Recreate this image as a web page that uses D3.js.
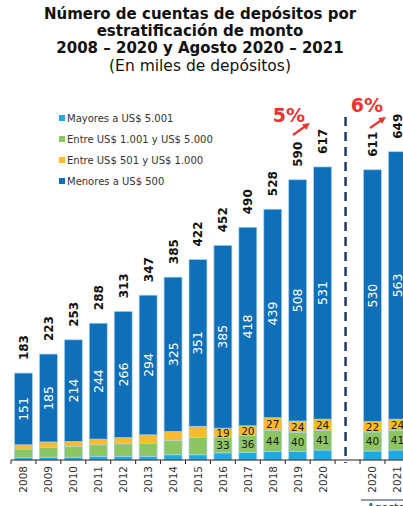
<!DOCTYPE html>
<html>
<head>
<meta charset="utf-8">
<script src="https://cdn.jsdelivr.net/npm/d3@7"></script>
<style>
  body { margin: 0; background: #fff; }
  svg { display: block; font-family: "DejaVu Sans", sans-serif; }
</style>
</head>
<body>
<div id="chart"></div>
<script>
// categories (slot 13 is the gap with the dashed line)
const labels = ['2008','2009','2010','2011','2012','2013','2014','2015','2016','2017','2018','2019','2020','','2020','2021'];
const mayores = [5, 6, 6, 8, 8, 8, 11, 11, 15, 16, 18, 18, 21, 0, 19, 21];
const entre1001 = [18, 20, 22, 24, 26, 27, 30, 36, 33, 36, 44, 40, 41, 0, 40, 41];
const entre501 = [9, 12, 11, 12, 13, 18, 19, 24, 19, 20, 27, 24, 24, 0, 22, 24];
const menores = [151, 185, 214, 244, 266, 294, 325, 351, 385, 418, 439, 508, 531, 0, 530, 563];
const totals = [183, 223, 253, 288, 313, 347, 385, 422, 452, 490, 528, 590, 617, null, 611, 649];
// small labels shown only from 2016 on
const showSmall = [8, 9, 10, 11, 12, 14, 15];

const keys = ['mayores', 'entre1001', 'entre501', 'menores'];
const names = ['Mayores a US$ 5.001', 'Entre  US$ 1.001  y US$ 5.000', 'Entre  US$ 501 y US$ 1.000', 'Menores a US$ 500'];
const colors = {mayores: '#1fa9e1', entre1001: '#8cc561', entre501: '#fbbb2b', menores: '#0f6fb8'};

const width = 403, height = 506;
const baseY = 460;

const rows = labels.map((l, i) => ({
  i: i, mayores: mayores[i], entre1001: entre1001[i], entre501: entre501[i], menores: menores[i]
}));

const svg = d3.select('#chart').append('svg')
  .attr('width', width)
  .attr('height', height);

const x = d3.scaleBand()
  .domain(d3.range(labels.length))
  .range([11, 11 + 16 * 24.93])
  .paddingInner(0.28)
  .paddingOuter(0.14);

const y = d3.scaleLinear().domain([0, 700]).range([baseY, baseY - 700 * 0.475]);

// title
const title = svg.append('g').attr('text-anchor', 'middle').attr('fill', '#111');
title.append('text').attr('x', 200).attr('y', 19).attr('font-size', 15).attr('font-weight', 'bold')
  .text('Número de cuentas de depósitos por');
title.append('text').attr('x', 200).attr('y', 36).attr('font-size', 15).attr('font-weight', 'bold')
  .text('estratificación de monto');
title.append('text').attr('x', 200).attr('y', 53).attr('font-size', 15).attr('font-weight', 'bold')
  .text('2008 – 2020 y Agosto 2020 – 2021');
title.append('text').attr('x', 200).attr('y', 71).attr('font-size', 15.5)
  .text('(En miles de depósitos)');

// stacked bars
const series = d3.stack().keys(keys)(rows);

const layer = svg.append('g').selectAll('g')
  .data(series)
  .join('g')
  .attr('fill', d => colors[d.key]);

layer.selectAll('rect')
  .data(d => d.filter(p => labels[p.data.i] !== ''))
  .join('rect')
  .attr('x', d => x(d.data.i))
  .attr('y', d => y(d[1]))
  .attr('width', x.bandwidth())
  .attr('height', d => y(d[0]) - y(d[1]))
  .attr('stroke', '#a9d3f0')
  .attr('stroke-width', 0.7);

// white labels inside Menores
const menoresLayer = series[3];
svg.append('g').selectAll('text')
  .data(menoresLayer.filter(p => labels[p.data.i] !== ''))
  .join('text')
  .attr('transform', d => 'translate(' + (x(d.data.i) + x.bandwidth() / 2 + 4.5) + ',' + ((y(d[0]) + y(d[1])) / 2) + ') rotate(-90)')
  .attr('text-anchor', 'middle')
  .attr('fill', '#fff')
  .attr('font-size', 12.5)
  .text(d => d.data.menores);

// small labels in green and yellow
[1, 2].forEach(k => {
  svg.append('g').selectAll('text')
    .data(series[k].filter(p => showSmall.includes(p.data.i)))
    .join('text')
    .attr('x', d => x(d.data.i) + x.bandwidth() / 2)
    .attr('y', d => (y(d[0]) + y(d[1])) / 2 + 4)
    .attr('text-anchor', 'middle')
    .attr('fill', '#1a1a1a')
    .attr('font-size', 10.5)
    .text(d => d.data[keys[k]]);
});

// totals above bars
svg.append('g').selectAll('text')
  .data(totals.map((t, i) => ({i: i, t: t})).filter(d => d.t !== null))
  .join('text')
  .attr('transform', d => 'translate(' + (x(d.i) + x.bandwidth() / 2 + 4.5) + ',' + (y(d.t) - 13) + ') rotate(-90)')
  .attr('text-anchor', 'start')
  .attr('fill', '#111')
  .attr('font-size', 12)
  .attr('font-weight', 'bold')
  .text(d => d.t);

// x axis
const axis = svg.append('g');
axis.append('line')
  .attr('x1', 11).attr('x2', width)
  .attr('y1', baseY).attr('y2', baseY)
  .attr('stroke', '#222').attr('stroke-width', 1.2);
axis.selectAll('line.tick')
  .data(d3.range(labels.length + 1))
  .join('line')
  .attr('class', 'tick')
  .attr('x1', d => 11 + d * x.step()).attr('x2', d => 11 + d * x.step())
  .attr('y1', baseY).attr('y2', baseY + 4)
  .attr('stroke', '#222').attr('stroke-width', 1);
axis.selectAll('text')
  .data(labels.map((l, i) => ({i: i, l: l})).filter(d => d.l !== ''))
  .join('text')
  .attr('transform', d => 'translate(' + (x(d.i) + x.bandwidth() / 2 + 4) + ',' + (baseY + 6) + ') rotate(-90)')
  .attr('text-anchor', 'end')
  .attr('fill', '#333')
  .attr('font-size', 10.5)
  .text(d => d.l);

// Agosto bracket
svg.append('line')
  .attr('x1', 361).attr('x2', width)
  .attr('y1', 500).attr('y2', 500)
  .attr('stroke', '#1f3864').attr('stroke-width', 1);
svg.append('text')
  .attr('x', 367).attr('y', 511)
  .attr('font-size', 11).attr('fill', '#333')
  .text('Agosto');

// dashed separator
const sepX = x(13) + x.bandwidth() / 2 - 2;
svg.append('line')
  .attr('x1', sepX).attr('x2', sepX)
  .attr('y1', 117).attr('y2', baseY + 3)
  .attr('stroke', '#1f3864')
  .attr('stroke-width', 2.5)
  .attr('stroke-dasharray', '9,6');

// legend
const legend = svg.append('g').selectAll('g')
  .data(keys)
  .join('g')
  .attr('transform', (d, i) => 'translate(59,' + (118 + i * 21) + ')');
legend.append('rect')
  .attr('x', 0).attr('y', -3).attr('width', 6).attr('height', 6)
  .attr('fill', d => colors[d]);
legend.append('text')
  .attr('x', 8).attr('y', 3.5)
  .attr('font-size', 10).attr('fill', '#333')
  .text((d, i) => names[i]);

// growth annotations
svg.append('defs').append('marker')
  .attr('id', 'arr')
  .attr('viewBox', '0 0 10 10')
  .attr('refX', 5).attr('refY', 5)
  .attr('markerWidth', 3.2).attr('markerHeight', 3.2)
  .attr('orient', 'auto')
  .append('path').attr('d', 'M0,0L10,5L0,10z').attr('fill', '#e8352f');

const notes = [
  {t: '5%', tx: 289, ty: 122, ax1: 293, ay1: 135, ax2: 307, ay2: 125},
  {t: '6%', tx: 367, ty: 112, ax1: 370, ay1: 128, ax2: 383, ay2: 119}
];
notes.forEach(n => {
  svg.append('text')
    .attr('x', n.tx).attr('y', n.ty)
    .attr('text-anchor', 'middle')
    .attr('font-size', 19).attr('font-weight', 'bold')
    .attr('fill', '#e8352f')
    .text(n.t);
  svg.append('line')
    .attr('x1', n.ax1).attr('y1', n.ay1)
    .attr('x2', n.ax2).attr('y2', n.ay2)
    .attr('stroke', '#e8352f').attr('stroke-width', 2.2)
    .attr('marker-end', 'url(#arr)');
});
</script>
</body>
</html>
